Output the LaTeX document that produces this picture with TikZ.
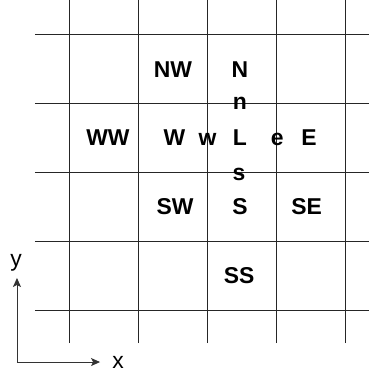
\documentclass[tikz,border=0pt]{standalone}
\usepackage{fontspec}
\setmainfont{Liberation Sans}
\usetikzlibrary{arrows.meta}

\begin{document}
\begin{tikzpicture}[
    x=69bp, y=69bp,
    gridline/.style={black!85, line width=0.8bp},
    cell/.style={inner sep=0pt, anchor=base, font=\fontsize{23}{26}\selectfont\bfseries},
    axislabel/.style={inner sep=0pt, font=\fontsize{23}{26}\selectfont},
    arrow/.style={-{Stealth[length=9bp,width=8bp,inset=2bp]}, black!80, line width=0.9bp}
]
    \useasboundingbox (0,0) rectangle (5.348,5.493);

    % Grid
    \foreach \i in {1,...,5} {
        \draw[gridline] (\i,0.52) -- (\i,5.493);
        \draw[gridline] (0.507,\i) -- (5.348,\i);
    }

    % Nodes and faces
    \node[cell] (NW) at (2.507,4.372) {NW};
    \node[cell] (N) at (3.478,4.372) {N};
    \node[cell] (n) at (3.478,3.908) {n};
    \node[cell] (WW) at (1.565,3.377) {WW};
    \node[cell] (W) at (2.53,3.377) {W};
    \node[cell] (w) at (3.007,3.377) {w};
    \node[cell] (L) at (3.478,3.377) {L};
    \node[cell] (e) at (4.02,3.377) {e};
    \node[cell] (E) at (4.478,3.377) {E};
    \node[cell] (s) at (3.465,2.884) {s};
    \node[cell] (SW) at (2.536,2.377) {SW};
    \node[cell] (S) at (3.48,2.377) {S};
    \node[cell] (SE) at (4.445,2.377) {SE};
    \node[cell] (SS) at (3.465,1.377) {SS};

    % Axes
    \coordinate (origin) at (0.246,0.246);
    \coordinate (xend) at (1.45,0.246);
    \coordinate (yend) at (0.246,1.464);
    \node[axislabel] (xlab) at (1.71,0.246) {x};
    \node[axislabel] (ylab) at (0.235,1.69) {y};
    \draw[arrow] (origin) -- (xend);
    \draw[arrow] (origin) -- (yend);
\end{tikzpicture}
\end{document}
